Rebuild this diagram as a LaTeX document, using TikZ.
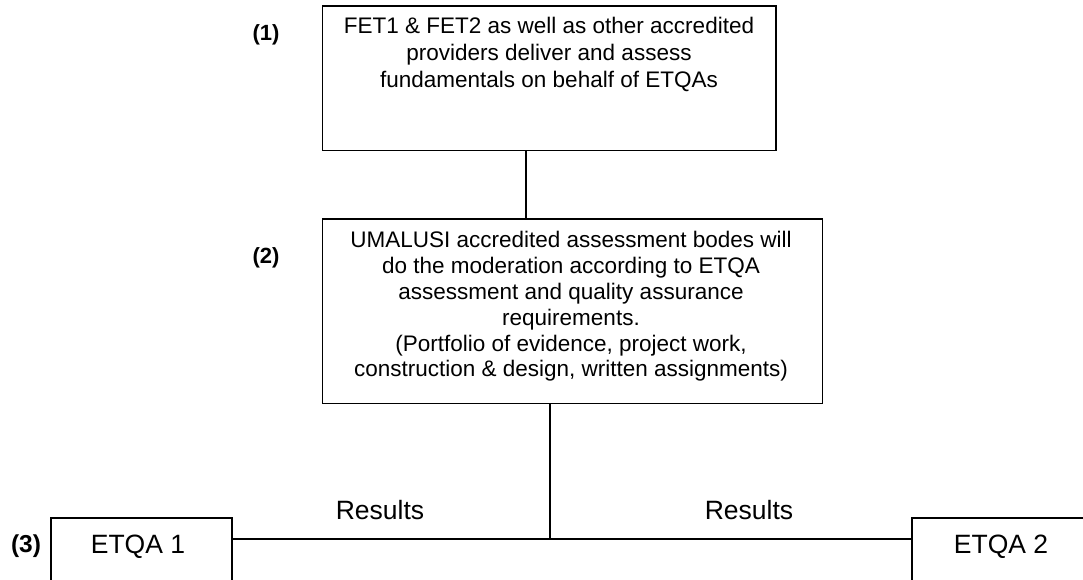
\documentclass[tikz,border=0pt]{standalone}
\usepackage{fontspec}
\setmainfont{Liberation Sans}
\begin{document}
\begin{tikzpicture}[x=1pt,y=-1pt,line width=1.8pt,
  box/.style={draw,rectangle,line width=1.8pt,inner sep=0pt},
  boxtext/.style={align=center,inner sep=0pt,font=\fontsize{22.5}{27}\selectfont},
  tag/.style={inner sep=0pt,font=\bfseries\fontsize{22}{26}\selectfont},
  big/.style={inner sep=0pt,font=\fontsize{26.5}{30}\selectfont}]
\useasboundingbox (0,0) rectangle (1083,579);
\clip (0,0) rectangle (1083,579);

% boxes
\node[box,minimum width=453.5pt,minimum height=144.5pt] (b1) at (549.25,78.25) {};
\node[box,minimum width=500pt,minimum height=184.5pt] (b2) at (572.5,311.25) {};
\node[box,minimum width=181pt,minimum height=122pt] (e1) at (141.5,579) {};
\node[box,minimum width=181pt,minimum height=122pt] (e2) at (1002.5,579) {};

% box texts
\node[boxtext] (t1) at (549,54.4)
  {FET1 \& FET2 as well as other accredited\\providers deliver and assess\\fundamentals on behalf of ETQAs};
\node[boxtext,font=\fontsize{22.5}{25.8}\selectfont] (t2) at (571,306.5)
  {UMALUSI accredited assessment bodes will\\do the moderation according to ETQA\\assessment and quality assurance\\requirements.\\(Portfolio of evidence, project work,\\construction \& design, written assignments)};
\node[big] (n1) at (138,546.5) {ETQA 1};
\node[big] (n2) at (1001,546.5) {ETQA 2};

% step numbers
\node[tag] (l1) at (266,35) {(1)};
\node[tag] (l2) at (266,258) {(2)};
\node[tag,font=\bfseries\fontsize{24.5}{28}\selectfont] (l3) at (26,546) {(3)};

% result labels
\node[big] (r1) at (380,510) {Results};
\node[big] (r2) at (749,510) {Results};

% connectors
\coordinate (j) at (550,539);
\draw ([xshift=-23pt]b1.south) -- ([xshift=-23pt]b1.south |- b2.north);
\draw ([xshift=-22.5pt]b2.south) -- (j);
\draw (e1.east |- j) -- (e2.west |- j);
\end{tikzpicture}
\end{document}
